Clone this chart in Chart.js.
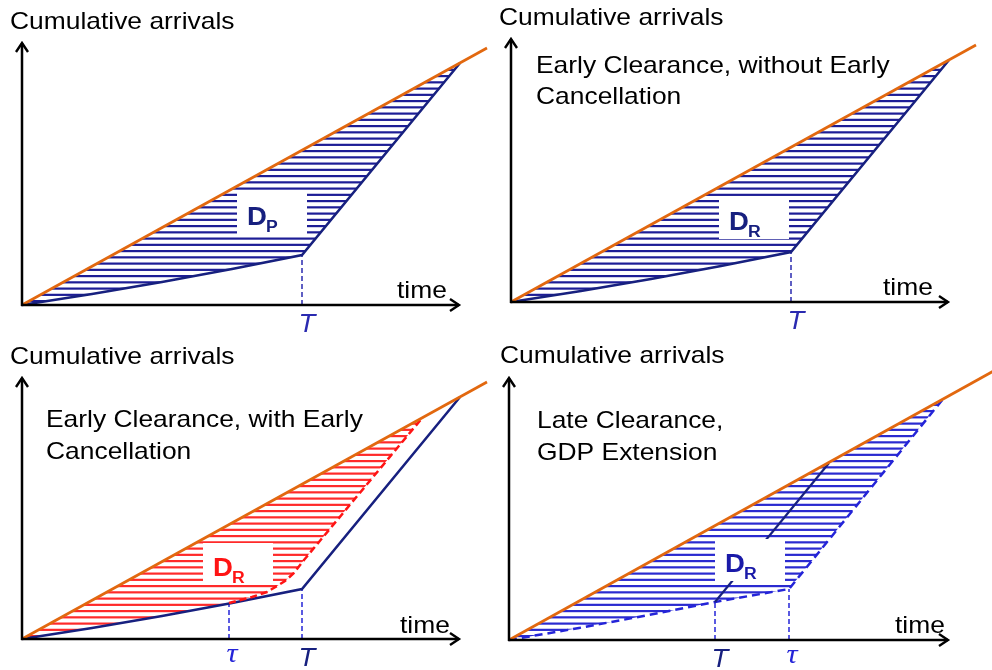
<!DOCTYPE html>
<html>
<head>
<meta charset="utf-8">
<script src="https://cdn.jsdelivr.net/npm/chart.js"></script>
<style>
  body { margin: 0; background: #fff; }
  .panel { position: absolute; width: 496px; height: 335px; }
  canvas { display: block; }
</style>
</head>
<body>
<div class="panel" style="left:0;top:0"><canvas id="p1" width="496" height="335"></canvas></div>
<div class="panel" style="left:496px;top:0"><canvas id="p2" width="496" height="335"></canvas></div>
<div class="panel" style="left:0;top:335px"><canvas id="p3" width="496" height="335"></canvas></div>
<div class="panel" style="left:496px;top:335px"><canvas id="p4" width="496" height="335"></canvas></div>
<script>
// ---- data (arbitrary units) ----
// scheduled cumulative arrivals (orange)
const arrivalsX = [0, 465];
const arrivalsY = [0, 257];
const arrivals4X = [0, 490];
const arrivals4Y = [0, 272];

// GDP capacity curve, then recovery after T (panels 1-3)
const gdpX = [0, 70, 140, 210, 280, 438];
const gdpY = [0, 11, 23, 36, 50, 242];
const gdpTopX = [0, 438];
const gdpTopY = [0, 242];

// early cancellation curve (panel 3)
const cancelX = [207, 230, 245, 255, 263, 272, 282, 401];
const cancelY = [36, 42, 47, 53, 58, 66, 79, 222];
const cancelLowX = [0, 70, 140, 207, 230, 245, 255, 263, 272, 282, 401];
const cancelLowY = [0, 11, 23, 36, 42, 47, 53, 58, 66, 79, 222];
const cancelTopX = [0, 401];
const cancelTopY = [0, 222];

// GDP extension (panel 4)
const extX = [0, 70, 140, 206, 280, 434];
const extY = [0, 12, 25, 38, 51, 241];
const extTopX = [0, 434];
const extTopY = [0, 241];
const oldRecoveryX = [206, 320];
const oldRecoveryY = [38, 177];

// tick marks on the time axis
const p1Ticks = [280];
const p1TickLabels = ['T'];
const p1TickHeights = [50];
const p3Ticks = [207, 280];
const p3TickLabels = ['τ', 'T'];
const p3TickHeights = [36, 50];
const p4Ticks = [206, 280];
const p4TickLabels = ['T', 'τ'];
const p4TickHeights = [38, 51];

// ---- styles ----
const W = 496, H = 335;
const ORANGE = '#e2680f';
const NAVY = '#17207f';
const BLUE = '#2424d8';
const RED = '#ff1414';
const SANS = '"Liberation Sans", Arial, sans-serif';
const SERIF = '"Liberation Serif", "Times New Roman", serif';

function hatch(color) {
  const c = document.createElement('canvas');
  c.width = 8; c.height = 25;
  const g = c.getContext('2d');
  g.fillStyle = color;
  for (let k = 0; k < 4; k++) g.fillRect(0, k * 6.25, 8, 2.2);
  return g.createPattern(c, 'repeat');
}

function series(xs, ys, color, width, dash, fillTarget, pattern) {
  return {
    data: xs.map((x, i) => ({ x: x, y: ys[i] })),
    borderColor: color,
    borderWidth: width,
    borderDash: dash || [],
    fill: fillTarget === undefined ? false : { target: fillTarget },
    backgroundColor: pattern || 'transparent',
    pointRadius: 0,
    tension: 0,
    clip: false
  };
}

function tickLines(xs, hs, color) {
  return xs.map((x, i) => series([x, x], [0, hs[i]], color, 1.5, [5, 3]));
}

// text slightly wider than the font, like the original slide
function drawText(ctx, str, x, y, font, color, align) {
  ctx.save();
  ctx.font = font;
  ctx.fillStyle = color;
  ctx.textAlign = align || 'left';
  ctx.textBaseline = 'alphabetic';
  ctx.translate(x, y);
  ctx.scale(1.1, 1);
  ctx.fillText(str, 0, 0);
  ctx.restore();
}

function decorPlugin(p) {
  return {
    id: 'decor',
    afterDatasetsDraw(chart) {
      const ctx = chart.ctx;
      const xs = chart.scales.x, ys = chart.scales.y;
      const ox = xs.getPixelForValue(0), oy = ys.getPixelForValue(0);
      const ax = xs.getPixelForValue(p.axisX), ay = ys.getPixelForValue(p.axisY);

      // white label box
      const bx = xs.getPixelForValue(p.box.x), by = ys.getPixelForValue(p.box.y);
      ctx.fillStyle = '#fff';
      ctx.fillRect(bx - 35, by - 21, 70, 42);
      ctx.font = 'bold 25px ' + SANS;
      const dw = ctx.measureText('D').width * 1.05;
      drawText(ctx, 'D', bx - 25, by + 12, 'bold 25px ' + SANS, p.box.color);
      drawText(ctx, p.box.sub, bx - 25 + dw, by + 19, 'bold 16px ' + SANS, p.box.color);

      // axes with arrows
      ctx.save();
      ctx.strokeStyle = '#000';
      ctx.lineWidth = 2.5;
      ctx.beginPath();
      ctx.moveTo(ox, oy + 1); ctx.lineTo(ox, ay + 1);
      ctx.moveTo(ox - 1, oy); ctx.lineTo(ax - 1, oy);
      ctx.stroke();
      ctx.lineWidth = 2.4;
      ctx.beginPath();
      ctx.moveTo(ox - 6, ay + 10); ctx.lineTo(ox, ay + 1); ctx.lineTo(ox + 6, ay + 10);
      ctx.moveTo(ax - 10, oy - 6); ctx.lineTo(ax - 1, oy); ctx.lineTo(ax - 10, oy + 6);
      ctx.stroke();
      ctx.restore();

      // texts
      drawText(ctx, 'Cumulative arrivals', p.title[0], p.title[1], '24px ' + SANS, '#000');
      drawText(ctx, 'time', p.time[0], p.time[1], '24px ' + SANS, '#000');
      p.desc.forEach(d => drawText(ctx, d[0], d[1], d[2], '24px ' + SANS, '#000'));

      // tick labels under the time axis
      p.ticks.forEach((t, i) => {
        const px = xs.getPixelForValue(t);
        const lab = p.tickLabels[i];
        if (lab === 'τ') {
          drawText(ctx, lab, px + 3, oy + 23, 'italic 28px ' + SERIF, p.tickColors[i], 'center');
        } else {
          drawText(ctx, lab, px + 5, oy + 27, 'italic 25px ' + SANS, p.tickColors[i], 'center');
        }
      });
    }
  };
}

function makeChart(id, p) {
  return new Chart(document.getElementById(id), {
    type: 'line',
    data: { datasets: p.datasets },
    plugins: [decorPlugin(p)],
    options: {
      responsive: false,
      animation: false,
      devicePixelRatio: 1,
      events: [],
      layout: { padding: { left: p.ox, top: 0, right: 0, bottom: H - p.oy } },
      scales: {
        x: { type: 'linear', display: false, min: 0, max: W - p.ox },
        y: { type: 'linear', display: false, min: 0, max: p.oy }
      },
      plugins: { legend: { display: false }, tooltip: { enabled: false } }
    }
  });
}

// Panel 1: planned delay
makeChart('p1', {
  ox: 22, oy: 305, axisX: 438, axisY: 263,
  title: [10, 29], time: [397, 298], desc: [],
  ticks: p1Ticks, tickLabels: p1TickLabels, tickColors: ['#2a2ab0'],
  box: { x: 250, y: 92, sub: 'P', color: NAVY },
  datasets: [
    series(arrivalsX, arrivalsY, ORANGE, 2.7),
    series(gdpX, gdpY, NAVY, 2.5, null, 2, hatch('#1d1d96')),
    series(gdpTopX, gdpTopY, 'transparent', 0),
    ...tickLines(p1Ticks, p1TickHeights, '#2a2ab0')
  ]
});

// Panel 2: early clearance, no cancellation
makeChart('p2', {
  ox: 15, oy: 302, axisX: 438, axisY: 264,
  title: [3, 25], time: [387, 295],
  desc: [['Early Clearance, without Early', 40, 73], ['Cancellation', 40, 104]],
  ticks: p1Ticks, tickLabels: p1TickLabels, tickColors: ['#2a2ab0'],
  box: { x: 243, y: 84, sub: 'R', color: NAVY },
  datasets: [
    series(arrivalsX, arrivalsY, ORANGE, 2.7),
    series(gdpX, gdpY, NAVY, 2.5, null, 2, hatch('#1d1d96')),
    series(gdpTopX, gdpTopY, 'transparent', 0),
    ...tickLines(p1Ticks, p1TickHeights, '#2a2ab0')
  ]
});

// Panel 3: early clearance with early cancellation
makeChart('p3', {
  ox: 22, oy: 304, axisX: 438, axisY: 262,
  title: [10, 29], time: [400, 298],
  desc: [['Early Clearance, with Early', 46, 92], ['Cancellation', 46, 124]],
  ticks: p3Ticks, tickLabels: p3TickLabels, tickColors: [BLUE, NAVY],
  box: { x: 216, y: 75, sub: 'R', color: RED },
  datasets: [
    series(arrivalsX, arrivalsY, ORANGE, 2.7),
    series(cancelX, cancelY, RED, 2.5, [7, 4]),
    series(gdpX, gdpY, NAVY, 2.5),
    series(cancelLowX, cancelLowY, 'transparent', 0, null, 4, hatch('#ff2a2a')),
    series(cancelTopX, cancelTopY, 'transparent', 0),
    ...tickLines(p3Ticks, p3TickHeights, BLUE)
  ]
});

// Panel 4: late clearance, GDP extension
makeChart('p4', {
  ox: 13, oy: 305, axisX: 440, axisY: 263,
  title: [4, 28], time: [399, 298],
  desc: [['Late Clearance,', 41, 93], ['GDP Extension', 41, 125]],
  ticks: p4Ticks, tickLabels: p4TickLabels, tickColors: [NAVY, BLUE],
  box: { x: 241, y: 80, sub: 'R', color: '#1a1aa8' },
  datasets: [
    series(arrivals4X, arrivals4Y, ORANGE, 2.7),
    series(oldRecoveryX, oldRecoveryY, NAVY, 2.2),
    series(extX, extY, BLUE, 2.5, [8, 5], 3, hatch('#2a2ad0')),
    series(extTopX, extTopY, 'transparent', 0),
    ...tickLines(p4Ticks, p4TickHeights, BLUE)
  ]
});
</script>
</body>
</html>
